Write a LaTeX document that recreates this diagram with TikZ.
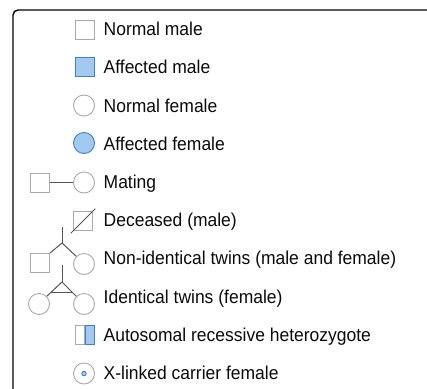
\documentclass[tikz,border=0pt]{standalone}
\usepackage{fontspec}
\setmainfont{Liberation Sans}
\usetikzlibrary{calc}
\definecolor{symgray}{HTML}{AAAAAA}
\definecolor{conngray}{HTML}{555555}
\definecolor{affblue}{HTML}{3C82D2}
\definecolor{afffill}{HTML}{A3C9F1}
\definecolor{txt}{HTML}{0A0A0A}
\newcommand{\lbfont}{\fontsize{18.6pt}{20pt}\selectfont}
\newcommand{\lt}[1]{\scalebox{0.94}[1]{#1}}
\tikzset{
  sq/.style={draw=symgray, fill=white, minimum size=19pt, inner sep=0pt, line width=0.9pt},
  ci/.style={circle, draw=symgray, fill=white, minimum size=21pt, inner sep=0pt, line width=0.9pt},
  aff/.style={draw=affblue, fill=afffill},
  lbl/.style={anchor=base west, inner sep=0pt, font=\lbfont, text=txt},
  conn/.style={draw=conngray, line width=1pt},
  frame/.style={draw=black, line width=1.4pt, rounded corners=5pt}
}
\begin{document}
\begin{tikzpicture}[x=1pt,y=-1pt]
\useasboundingbox (0,0) rectangle (427,388);
\clip (0,0) rectangle (427,388);
\draw[frame] (13,400) -- (13,10) -- (440,10);
% row 1
\node[sq] (nm) at (85,29.5) {};
\node[lbl] (tnm) at (103.5,35.7) {\lt{Normal male}};
% row 2
\node[sq,aff] (am) at (85,67) {};
\node[lbl] (tam) at (103.5,73.9) {\lt{Affected male}};
% row 3
\node[ci] (nf) at (84,105.5) {};
\node[lbl] (tnf) at (103.5,112.1) {\lt{Normal female}};
% row 4
\node[ci,aff] (af) at (84,143) {};
\node[lbl] (taf) at (103.5,150.3) {\lt{Affected female}};
% row 5 mating
\node[sq] (ms) at (40,182.5) {};
\node[ci] (mc) at (84,182.5) {};
\draw[conn] (ms) -- (mc);
\node[lbl] (tma) at (103.5,188.5) {\lt{Mating}};
% row 6 deceased
\node[sq] (ds) at (83,221) {};
\draw[conn] ($(ds.south west)!-0.12!(ds.north east)$) -- ($(ds.north east)!-0.12!(ds.south west)$);
\node[lbl] (tde) at (103.5,226.7) {\lt{Deceased (male)}};
% row 7 non-identical twins
\coordinate (nt) at (62,227);
\coordinate (nb) at (62,243);
\node[sq] (ns) at (40,263) {};
\node[ci] (nc) at (84,264) {};
\draw[conn] (nt) -- (nb);
\draw[conn] (nb) -- (ns.north east);
\draw[conn] (nb) -- (nc.135);
\node[lbl] (tnt) at (103.5,264.9) {\lt{Non-identical twins (male and female)}};
% row 8 identical twins
\coordinate (it) at (62,265);
\coordinate (ia) at (62,282);
\node[ci] (ic1) at (39,304) {};
\node[ci] (ic2) at (84,304) {};
\draw[conn] (it) -- (ia);
\draw[conn] (ia) -- (ic1.45);
\draw[conn] (ia) -- (ic2.135);
\draw[conn] ($(ia)!0.75!(ic1.45)$) -- ($(ia)!0.75!(ic2.135)$);
\node[lbl] (tit) at (103.5,303.1) {\lt{Identical twins (female)}};
% row 9 autosomal heterozygote
\node[draw=symgray, fill=white, line width=0.9pt, minimum width=9.5pt, minimum height=19pt, inner sep=0pt] (hl) at (80,335) {};
\node[draw=affblue, fill=afffill, line width=0.9pt, minimum width=9.5pt, minimum height=19pt, inner sep=0pt] (hr) at (90,335) {};
\node[lbl] (tah) at (103.5,341.3) {\lt{Autosomal recessive heterozygote}};
% row 10 x-linked carrier
\node[ci] (xc) at (84,373.5) {};
\node[circle, draw=affblue, fill=afffill, line width=0.9pt, minimum size=4.5pt, inner sep=0pt] (xd) at (xc.center) {};
\node[lbl] (txl) at (103.5,379.5) {\lt{X-linked carrier female}};
\end{tikzpicture}
\end{document}
